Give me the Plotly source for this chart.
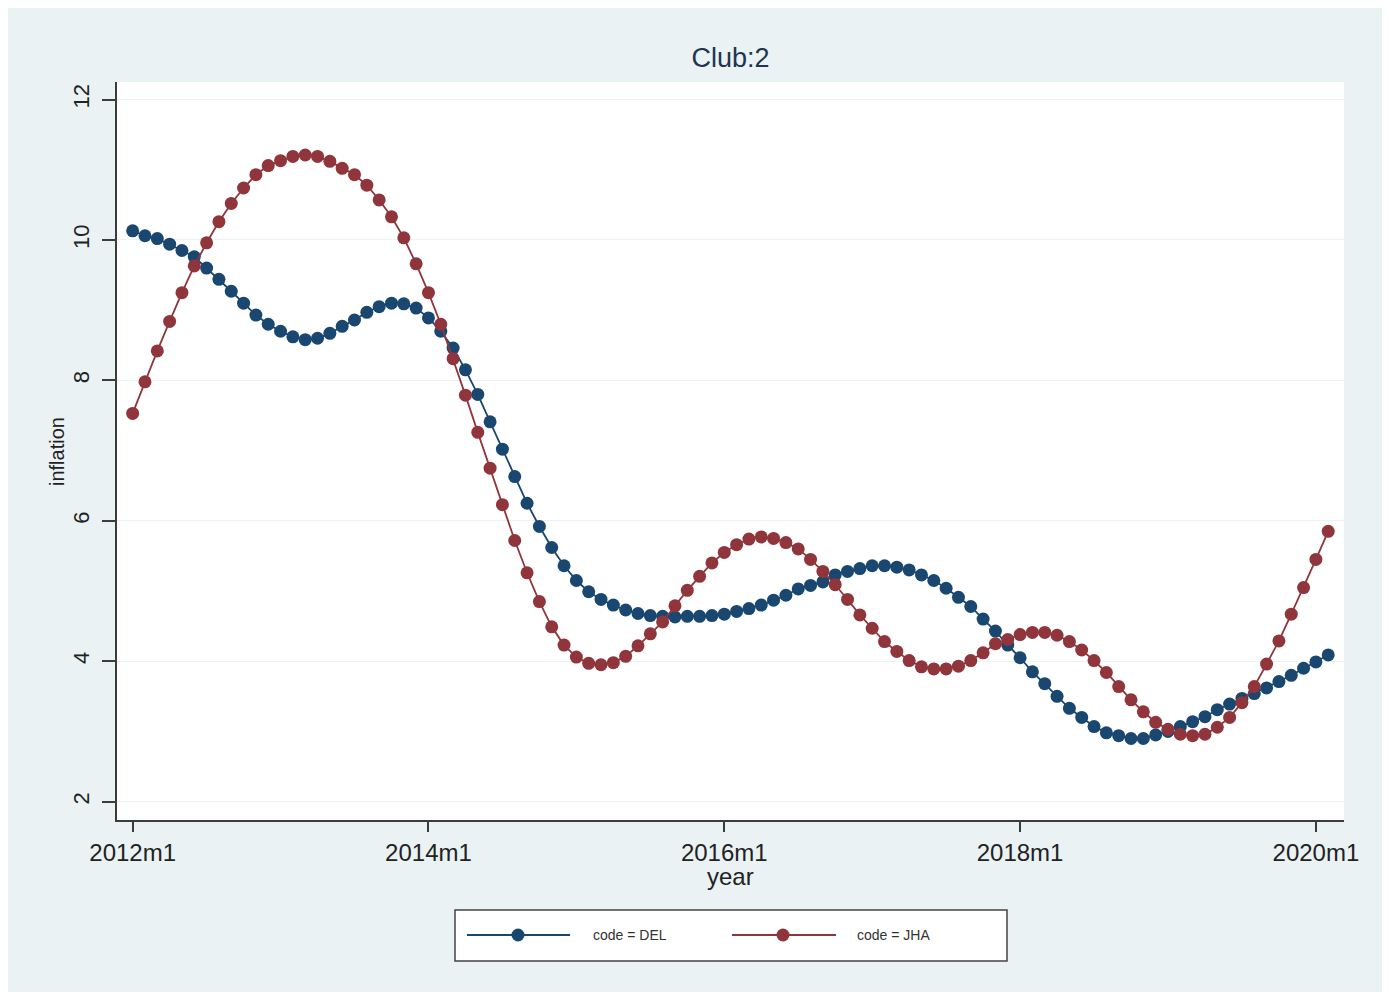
import plotly.graph_objects as go

# ---------------- data (monthly, 2012m1 .. 2020m2) ----------------
DEL = [10.13, 10.06, 10.02, 9.94, 9.85, 9.76, 9.60, 9.44, 9.27, 9.10,
       8.93, 8.80, 8.70, 8.62, 8.58, 8.60, 8.67, 8.77, 8.86, 8.97,
       9.05, 9.10, 9.09, 9.03, 8.89, 8.70, 8.46, 8.15, 7.80, 7.41,
       7.02, 6.63, 6.25, 5.92, 5.62, 5.36, 5.15, 4.99, 4.88, 4.80,
       4.73, 4.68, 4.65, 4.64, 4.63, 4.64, 4.64, 4.65, 4.67, 4.71,
       4.75, 4.80, 4.87, 4.94, 5.03, 5.08, 5.13, 5.23, 5.28, 5.32,
       5.36, 5.36, 5.34, 5.30, 5.23, 5.15, 5.04, 4.91, 4.78, 4.60,
       4.43, 4.23, 4.05, 3.85, 3.68, 3.50, 3.33, 3.20, 3.07, 2.98,
       2.94, 2.90, 2.90, 2.95, 3.00, 3.07, 3.14, 3.21, 3.31, 3.39,
       3.47, 3.54, 3.62, 3.71, 3.80, 3.90, 3.99, 4.09]

JHA = [7.53, 7.98, 8.42, 8.84, 9.25, 9.63, 9.96, 10.26, 10.52, 10.74,
       10.93, 11.06, 11.13, 11.19, 11.21, 11.19, 11.12, 11.02, 10.93, 10.78,
       10.57, 10.33, 10.03, 9.66, 9.25, 8.80, 8.31, 7.79, 7.26, 6.75,
       6.23, 5.72, 5.26, 4.85, 4.49, 4.23, 4.06, 3.97, 3.95, 3.98,
       4.07, 4.22, 4.39, 4.56, 4.79, 5.01, 5.21, 5.40, 5.55, 5.66,
       5.74, 5.77, 5.75, 5.69, 5.60, 5.45, 5.28, 5.09, 4.88, 4.66,
       4.47, 4.28, 4.14, 4.01, 3.92, 3.89, 3.89, 3.93, 4.01, 4.12,
       4.25, 4.31, 4.38, 4.41, 4.41, 4.37, 4.28, 4.16, 4.01, 3.84,
       3.64, 3.45, 3.28, 3.13, 3.03, 2.96, 2.94, 2.96, 3.06, 3.20,
       3.41, 3.64, 3.96, 4.29, 4.67, 5.05, 5.45, 5.85]

START_YEAR = 2012
months = [f"{START_YEAR + i // 12}m{i % 12 + 1}" for i in range(len(DEL))]
x_tick_labels = ["2012m1", "2014m1", "2016m1", "2018m1", "2020m1"]
y_tick_values = [2, 4, 6, 8, 10, 12]
series_names = ["code = DEL", "code = JHA"]

NAVY = "#1A476F"
MAROON = "#90353B"
BG = "#EAF2F3"
AXIS = "#3c3c3c"
FONT = "Liberation Sans, Arial, sans-serif"

W, H = 1390, 1000
L, R, T, B = 117, 46, 82, 180
PW, PH = W - L - R, H - T - B


def px(x):
    return (x - L) / PW


def py(y):
    return (H - B - y) / PH


fig = go.Figure()
for name, vals, col in [(series_names[0], DEL, NAVY), (series_names[1], JHA, MAROON)]:
    fig.add_trace(go.Scatter(
        x=months, y=vals, name=name, mode="lines+markers",
        line=dict(color=col, width=1.8),
        marker=dict(color=col, size=13, symbol="circle", line=dict(width=0)),
        showlegend=False,
    ))

shapes = []
# white frame around the light background
shapes.append(dict(type="rect", xref="paper", yref="paper",
                   x0=px(0), x1=px(W), y0=py(H), y1=py(0),
                   line=dict(color="white", width=16), fillcolor="rgba(0,0,0,0)",
                   layer="above"))
# legend box
shapes.append(dict(type="rect", xref="paper", yref="paper",
                   x0=px(455), x1=px(1007), y0=py(961), y1=py(910),
                   line=dict(color="#444444", width=1.5), fillcolor="white"))
annotations = []
ly = 935
for (x0, x1, xm, xt), col, name in [((467, 570, 518, 591), NAVY, series_names[0]),
                                    ((732, 836, 783, 855), MAROON, series_names[1])]:
    shapes.append(dict(type="line", xref="paper", yref="paper",
                       x0=px(x0), x1=px(x1), y0=py(ly), y1=py(ly),
                       line=dict(color=col, width=1.8)))
    r = 6.5
    shapes.append(dict(type="circle", xref="paper", yref="paper",
                       x0=px(xm - r), x1=px(xm + r), y0=py(ly + r), y1=py(ly - r),
                       line=dict(width=0), fillcolor=col))
    annotations.append(dict(xref="paper", yref="paper", x=px(xt), y=py(ly),
                            text=name, showarrow=False, xanchor="left", yanchor="middle",
                            font=dict(family=FONT, size=14, color="#333333")))

# axis titles
annotations.append(dict(xref="paper", yref="paper", x=0.5, y=py(877), text="year",
                        showarrow=False, xanchor="center", yanchor="middle",
                        font=dict(family=FONT, size=24, color="#222222")))
annotations.append(dict(xref="paper", yref="paper", x=px(57), y=0.5, text="inflation",
                        showarrow=False, xanchor="center", yanchor="middle", textangle=-90,
                        font=dict(family=FONT, size=20, color="#222222")))

fig.update_layout(
    width=W, height=H, autosize=False,
    margin=dict(l=L, r=R, t=T, b=B, pad=0),
    paper_bgcolor=BG, plot_bgcolor="white",
    title=dict(text="Club:2", x=0.5, xref="paper", xanchor="center",
               y=1 - 58 / H, yref="container", yanchor="middle",
               font=dict(family=FONT, size=27, color="#1f3550")),
    shapes=shapes, annotations=annotations,
    showlegend=False,
)
fig.update_xaxes(
    type="category", range=[-1.27, 98.28],
    tickmode="array", tickvals=x_tick_labels, ticktext=x_tick_labels,
    showgrid=False, zeroline=False,
    showline=True, linecolor=AXIS, linewidth=1.5,
    ticks="outside", ticklen=10, tickwidth=1.5, tickcolor=AXIS,
    tickfont=dict(family=FONT, size=24, color="#222222"),
)
fig.update_yaxes(
    range=[1.739, 12.25], tickmode="array", tickvals=y_tick_values,
    tickangle=-90,
    showgrid=True, gridcolor=BG, gridwidth=1.2, zeroline=False,
    showline=True, linecolor=AXIS, linewidth=1.5,
    ticks="outside", ticklen=13, tickwidth=1.5, tickcolor=AXIS,
    ticklabelstandoff=4,
    tickfont=dict(family=FONT, size=22, color="#222222"),
)

fig.write_html("out.html")
